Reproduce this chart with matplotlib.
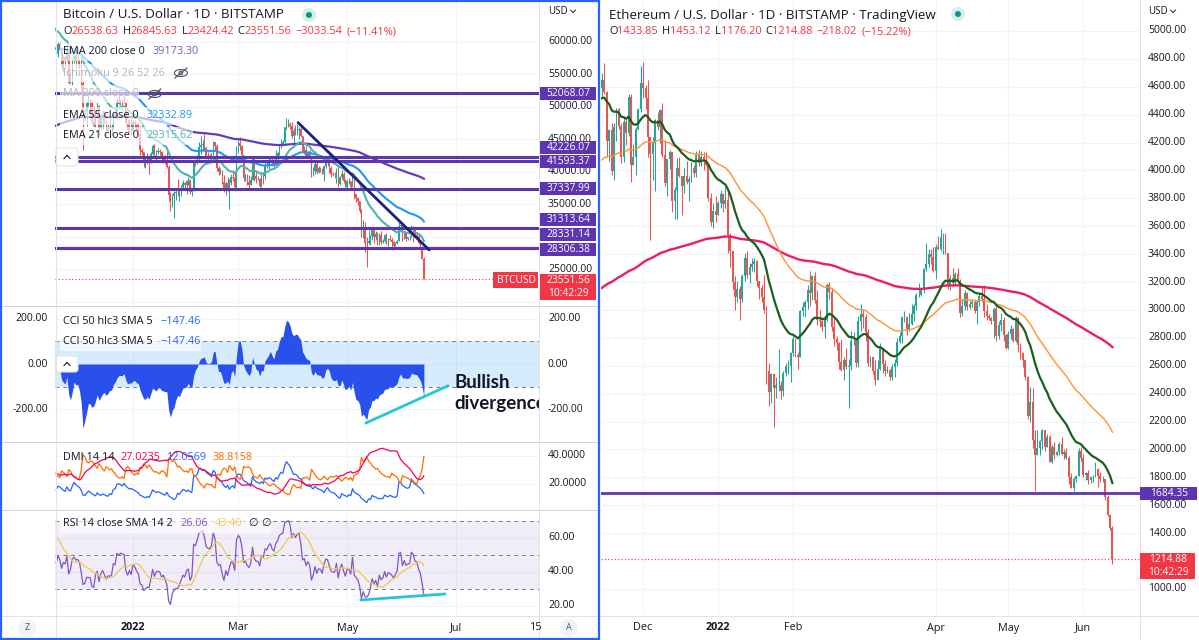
#!/usr/bin/env python3
"""
BTC and ETH daily charts (TradingView look), snapshot of 13 June 2022.
Left: BTCUSD with EMAs, levels, CCI, DMI, RSI.  Right: ETHUSD with EMAs.
"""

import numpy as np
import pandas as pd
import matplotlib
matplotlib.use('Agg')
import matplotlib.pyplot as plt
from matplotlib.transforms import IdentityTransform
from matplotlib.patches import Rectangle, Circle, Ellipse, FancyBboxPatch
from matplotlib.lines import Line2D

# ---------------------------------------------------------------- BTC data
# daily bars from 1 Oct 2021 to 13 Jun 2022, in thousands of USD
btc_first_open = 43.8
btc_close = [
    48.1, 47.7, 48.2, 49.2, 51.5, 55.3, 53.8, 53.9, 54.9, 54.7, 57.5, 56.0, 57.4, 57.3, 61.7, 60.9,
    61.5, 62.0, 64.3, 66.0, 62.2, 60.7, 61.3, 60.9, 63.1, 60.3, 58.5, 60.6, 62.3, 61.9, 61.3,
    61.0, 63.2, 62.9, 61.4, 61.0, 61.5, 63.3, 67.6, 66.9, 64.9, 64.9, 64.2, 64.4, 65.5, 63.6,
    60.1, 60.4, 56.9, 58.1, 59.7, 58.7, 56.3, 57.6, 57.2, 58.9, 53.7, 54.8, 57.3, 57.8, 57.0,
    57.2, 56.5, 53.6, 49.2, 49.4, 50.6, 50.6, 50.5, 47.6, 47.1, 49.3, 50.1, 46.7, 48.3, 48.9, 47.6,
    46.2, 46.8, 46.7, 46.9, 48.9, 48.6, 50.8, 50.4, 50.8, 50.7, 50.6, 47.5, 46.4, 47.1, 46.2,
    47.7, 47.3, 46.4, 45.8, 43.4, 43.1, 41.5, 41.7, 41.9, 41.8, 42.7, 43.9, 42.6, 43.1, 43.2, 43.1,
    42.2, 42.4, 41.7, 40.7, 36.4, 35.1, 36.3, 36.7, 36.9, 36.8, 37.2, 37.7, 38.2, 37.9, 38.5,
    38.7, 36.9, 37.3, 41.6, 41.4, 42.4, 43.8, 44.1, 44.3, 43.6, 42.4, 42.2, 42.1, 42.6, 44.6, 43.9,
    40.6, 40.0, 40.1, 38.4, 37.0, 38.3, 37.3, 38.3, 39.2, 39.1, 37.7, 43.2,
    44.4, 44.0, 42.5, 39.1, 39.4, 38.4, 37.9, 38.7, 41.9, 39.4, 38.8, 38.8, 37.8, 39.7, 39.3, 41.1,
    40.9, 41.8, 42.2, 41.3, 41.0, 42.4, 42.9, 44.0, 44.3, 44.5, 46.8, 47.1, 47.4, 47.0, 45.5,
    46.3, 45.8, 46.4, 46.6, 45.5, 43.2, 43.4, 42.3, 42.8, 42.2, 39.5, 40.1, 41.2, 39.9, 40.5,
    40.4, 39.7, 40.8, 41.5, 41.4, 40.5, 39.7, 39.5, 39.5, 40.4, 38.1, 39.2, 39.7, 38.6, 37.7,
    38.5, 38.5, 37.7, 39.7, 36.5, 36.0, 35.5, 34.0, 30.1, 31.0, 29.1, 29.0, 29.3, 30.1, 31.3, 29.9,
    30.4, 28.7, 30.3, 29.2, 29.4, 30.3, 29.1, 29.7, 29.5, 29.2, 28.6, 29.0, 29.4, 31.7, 31.8,
    29.8, 30.5, 29.7, 29.9, 29.9, 31.4, 31.1, 30.2, 30.1, 29.1, 28.4, 26.59, 23.55,
]
btc_high = [
    48.5, 48.4, 49.5, 49.5, 51.9, 55.8, 55.3, 56.1, 55.4, 56.5, 57.8, 57.7, 57.6, 58.5, 62.9, 62.3,
    61.7, 62.6, 64.4, 66.9, 66.6, 63.7, 61.4, 61.5, 63.7, 63.3, 61.4, 62.4, 62.9, 62.3, 62.4,
    62.4, 64.3, 63.5, 63.1, 62.6, 61.6, 63.3, 67.8, 68.5, 69.0, 65.6, 65.0, 65.0, 65.5, 66.3,
    63.6, 60.8, 60.9, 58.4, 59.9, 60.0, 59.2, 57.9, 57.8, 59.4, 59.2, 55.3, 57.4, 58.9, 59.2,
    59.0, 57.4, 57.6, 53.9, 49.7, 50.9, 51.9, 51.2, 50.8, 50.1, 49.5, 50.7, 50.2, 48.7, 49.5, 49.4,
    47.9, 47.3, 48.2, 47.5, 49.3, 49.6, 51.4, 51.8, 51.2, 51.2, 52.1, 50.7, 48.1, 47.9, 48.5,
    47.9, 47.9, 47.5, 47.5, 47.0, 43.7, 43.1, 42.3, 42.8, 42.2, 43.1, 44.3, 44.4, 43.4, 43.7, 43.5,
    43.2, 42.6, 42.6, 43.5, 41.1, 36.8, 36.5, 37.0, 37.5, 38.9, 37.2, 38.0, 38.7, 38.4, 38.7,
    39.2, 38.8, 37.4, 41.7, 41.9, 42.6, 44.5, 45.5, 44.8, 45.8, 43.9, 43.0, 42.7, 42.9, 44.7, 44.6,
    44.2, 40.9, 40.5, 40.2, 39.5, 38.4, 39.2, 38.9, 39.7, 40.2, 39.8, 44.0,
    44.9, 45.4, 44.1, 42.5, 39.6, 39.6, 39.5, 39.4, 42.4, 42.0, 40.1, 39.3, 39.0, 39.9, 39.9, 41.7,
    41.5, 42.3, 42.4, 42.3, 42.0, 43.3, 43.0, 44.2, 45.1, 44.8, 46.9, 48.2, 48.1, 47.7, 47.6,
    46.7, 47.2, 47.4, 46.9, 47.2, 45.5, 43.9, 43.9, 42.8, 43.4, 42.4, 40.7, 41.5, 41.5, 40.8,
    40.7, 40.6, 41.0, 41.7, 42.2, 42.9, 40.8, 39.9, 39.9, 40.6, 40.8, 39.4, 40.3, 39.9, 38.8,
    38.7, 39.1, 38.6, 40.0, 39.8, 36.6, 36.1, 35.5, 34.3, 32.6, 32.2, 30.0, 31.0, 30.3, 31.4, 31.3,
    30.8, 30.7, 30.5, 30.8, 29.6, 30.4, 30.6, 29.8, 30.2, 29.8, 29.4, 29.2, 29.5, 32.2, 32.4,
    31.9, 30.6, 30.6, 29.9, 30.2, 31.8, 31.6, 31.3, 30.6, 30.3, 29.4, 28.5, 26.85,
]
btc_low = [
    43.3, 47.1, 47.1, 46.9, 49.1, 50.4, 53.4, 53.6, 53.7, 54.1, 54.4, 53.9, 54.3, 56.8, 56.9, 60.2,
    58.9, 60.4, 61.5, 63.5, 62.0, 60.0, 60.0, 59.6, 60.7, 59.8, 58.1, 57.8, 60.2, 60.8, 59.6,
    59.5, 60.7, 61.0, 60.7, 60.8, 60.1, 61.4, 63.1, 66.3, 62.8, 64.1, 62.3, 63.4, 63.6, 63.4,
    58.6, 58.4, 56.5, 55.7, 57.6, 58.6, 55.7, 55.4, 55.9, 57.0, 53.5, 53.7, 53.3, 56.7, 55.9,
    56.5, 55.9, 52.0, 43.3, 47.8, 47.1, 50.1, 48.6, 47.3, 46.9, 46.9, 48.6, 45.7, 46.5, 46.6, 47.5,
    45.5, 45.9, 46.5, 45.6, 46.6, 48.4, 48.1, 50.4, 50.2, 49.5, 50.5, 47.3, 46.1, 45.9, 45.7,
    46.2, 46.7, 45.7, 45.5, 42.6, 42.5, 40.7, 40.5, 41.2, 39.7, 41.3, 42.5, 42.3, 41.7, 42.7, 42.6,
    41.6, 41.3, 41.2, 40.6, 35.5, 34.0, 34.6, 32.9, 35.7, 36.3, 35.5, 36.2, 37.4, 37.4, 36.6,
    38.0, 36.6, 36.3, 37.0, 40.9, 41.2, 41.7, 42.7, 43.2, 43.2, 42.0, 41.8, 41.9, 41.6, 42.5, 43.4,
    40.1, 39.5, 39.6, 38.1, 36.8, 36.4, 37.1, 34.3, 38.0, 38.6, 37.0, 37.5,
    42.8, 43.4, 41.9, 38.6, 38.6, 38.0, 37.2, 37.9, 38.7, 38.5, 38.2, 38.7, 37.6, 37.6, 38.1, 38.9,
    40.5, 40.2, 41.5, 40.9, 40.5, 41.0, 41.7, 42.6, 43.6, 44.1, 44.4, 46.6, 46.9, 46.6, 45.2,
    44.2, 45.6, 45.6, 45.1, 45.4, 43.0, 42.7, 42.1, 42.1, 41.9, 39.2, 39.3, 39.6, 39.6, 39.8,
    40.0, 39.6, 38.6, 40.6, 40.9, 39.8, 39.2, 39.3, 39.0, 38.2, 37.7, 37.9, 38.9, 38.2, 37.6,
    37.4, 38.1, 37.5, 37.7, 35.8, 35.3, 34.8, 33.7, 30.0, 29.8, 27.7, 25.4, 28.8, 28.7, 29.5, 29.1,
    29.5, 28.7, 28.7, 28.8, 29.0, 29.2, 28.9, 28.6, 29.3, 28.0, 28.3, 28.5, 28.8, 29.3, 31.2,
    29.4, 29.6, 29.4, 29.5, 29.5, 29.9, 29.2, 29.9, 29.9, 28.9, 28.1, 26.6, 23.42,
]
btc_ema_lengths = [200, 55, 21]
btc_ema_seeds = [38600, 47500, 47000]      # EMA values on 30 Sep 2021
btc_levels = [52068.07, 42226.07, 41593.37, 37337.99, 31313.64, 28331.14, 28306.38]
btc_last = 23551.56
btc_trend_x = [184.5, 258.0]               # bar index (0 = 1 Oct 2021)
btc_trend_y = [47550, 27950]
cci_div_x = [222.6, 268.4]
cci_div_y = [-261, -97]
rsi_div_x = [219.8, 266.7]
rsi_div_y = [23.5, 27.0]
btc_ticks = [92, 151, 212, 273, 318]
btc_tick_labels = ['2022', 'Mar', 'May', 'Jul', '15']

# ---------------------------------------------------------------- ETH data
# daily bars from 14 Nov 2021 to 13 Jun 2022, USD
eth_first_open = 4590
eth_close = [
    4645, 4565, 4210, 4290, 3995, 4310, 4440, 4320, 4100, 4350, 4270, 4525, 4040, 4100, 4300, 4440, 4630,
    4590, 4520, 4240, 4120, 4200, 4360, 4310, 4430, 4110, 3910, 4080, 4130, 3780, 3860, 4020, 3960,
    3890, 3960, 3920, 3940, 4020, 3980, 4110, 4050, 4100, 4070, 4040, 3800, 3630, 3710, 3680,
    3770, 3830, 3760, 3790, 3540, 3420, 3200, 3090, 3150, 3080, 3240, 3370, 3250, 3310, 3330, 3350,
    3210, 3160, 3090, 3000, 2560, 2410, 2540, 2440, 2460, 2460, 2420, 2550, 2600, 2600, 2690,
    2790, 2680, 2660, 2990, 3020, 3060, 3140, 3120, 3240, 3070, 2930, 2920, 2880, 2930, 3180, 3130,
    2880, 2790, 2760, 2630, 2570, 2640, 2590, 2600, 2780, 2780, 2620, 2920,
    2970, 2950, 2840, 2620, 2660, 2560, 2500, 2580, 2730, 2610, 2560, 2570, 2520, 2590, 2620, 2770,
    2810, 2950, 2950, 2860, 2900, 2970, 3030, 3110, 3110, 3140, 3290, 3330, 3400, 3380, 3280,
    3450, 3440, 3520, 3520, 3410, 3170, 3230, 3190, 3260, 3210, 2980, 3030, 3120, 3020, 3040,
    3060, 2990, 3060, 3100, 3080, 2990, 2960, 2940, 2920, 3010, 2810, 2890, 2930, 2820, 2730,
    2830, 2860, 2780, 2940, 2750, 2690, 2640, 2520, 2240, 2340, 2070, 1960, 2010, 2060, 2140, 2020,
    2090, 1910, 2020, 1960, 1980, 2040, 1970, 1980, 1940, 1800, 1720, 1790, 1810, 1990, 1940,
    1820, 1830, 1780, 1800, 1800, 1860, 1810, 1790, 1790, 1660, 1530, 1434, 1215,
]
eth_high = [
    4700, 4770, 4570, 4300, 4340, 4340, 4450, 4450, 4340, 4380, 4370, 4550, 4550, 4190, 4310, 4450, 4750,
    4780, 4610, 4650, 4240, 4240, 4370, 4420, 4440, 4480, 4220, 4080, 4150, 4120, 3880, 4090, 4100,
    3960, 4020, 4070, 3960, 4060, 4040, 4140, 4150, 4140, 4130, 4130, 4050, 3840, 3770, 3820,
    3780, 3860, 3840, 3880, 3850, 3550, 3420, 3240, 3210, 3170, 3260, 3410, 3420, 3340, 3370, 3370,
    3360, 3210, 3180, 3250, 3030, 2620, 2550, 2460, 2520, 2720, 2490, 2560, 2620, 2640, 2700,
    2810, 2790, 2700, 3000, 3060, 3070, 3180, 3280, 3250, 3270, 3140, 3000, 2950, 2950, 3190, 3200,
    3160, 2940, 2810, 2770, 2790, 2660, 2730, 2650, 2850, 2840, 2800, 2960,
    3040, 3000, 2970, 2860, 2670, 2660, 2640, 2640, 2760, 2720, 2640, 2600, 2580, 2610, 2650, 2800,
    2840, 2960, 2990, 2960, 2980, 3040, 3040, 3120, 3190, 3150, 3300, 3480, 3440, 3440, 3450,
    3470, 3530, 3580, 3550, 3550, 3410, 3250, 3300, 3270, 3300, 3220, 3080, 3140, 3130, 3070,
    3080, 3070, 3070, 3120, 3170, 3180, 3040, 2970, 2950, 3020, 3030, 2920, 2980, 2950, 2830,
    2850, 2890, 2870, 2960, 2950, 2760, 2700, 2640, 2530, 2450, 2440, 2140, 2140, 2070, 2150, 2140,
    2110, 2100, 2030, 2050, 1990, 2050, 2090, 2000, 2010, 1950, 1830, 1800, 1820, 2010, 2020,
    1970, 1840, 1850, 1810, 1820, 1910, 1870, 1840, 1810, 1790, 1670, 1540, 1453,
]
eth_low = [
    4520, 4550, 4100, 4070, 3970, 3930, 4210, 4300, 4050, 4060, 4180, 4250, 3920, 4050, 3970, 4290, 4420,
    4520, 4440, 4100, 3500, 3930, 3850, 4290, 4200, 4100, 3890, 3820, 4010, 3700, 3650, 3650, 3950,
    3680, 3840, 3900, 3780, 3920, 3950, 3950, 4030, 4030, 4000, 4030, 3780, 3600, 3590, 3630,
    3680, 3730, 3700, 3730, 3410, 3310, 3150, 3000, 3060, 2930, 3060, 3210, 3230, 3190, 3280, 3270,
    3170, 3080, 3060, 2980, 2470, 2310, 2330, 2160, 2370, 2420, 2360, 2380, 2530, 2540, 2480,
    2670, 2660, 2580, 2660, 2960, 2950, 3010, 3030, 3070, 3050, 2890, 2880, 2850, 2800, 2920, 3080,
    2850, 2740, 2710, 2580, 2560, 2500, 2580, 2300, 2570, 2750, 2590, 2590,
    2850, 2870, 2780, 2600, 2590, 2540, 2460, 2500, 2570, 2550, 2530, 2550, 2500, 2500, 2520, 2600,
    2760, 2760, 2910, 2820, 2850, 2890, 2920, 3000, 3090, 3100, 3120, 3280, 3310, 3330, 3270,
    3220, 3430, 3420, 3400, 3400, 3150, 3140, 3170, 3180, 3190, 2950, 2960, 3000, 3000, 3010,
    3020, 2980, 2900, 3030, 3060, 2950, 2930, 2930, 2900, 2800, 2780, 2790, 2850, 2780, 2720,
    2720, 2790, 2770, 2770, 2700, 2650, 2590, 2500, 2220, 2200, 2010, 1700, 1960, 1960, 2000, 1990,
    2020, 1910, 1900, 1930, 1950, 1960, 1960, 1930, 1930, 1750, 1720, 1700, 1770, 1810, 1920,
    1800, 1780, 1750, 1760, 1770, 1800, 1730, 1770, 1770, 1640, 1520, 1420, 1176,
]
eth_ema_lengths = [200, 55, 21]
eth_ema_seeds = [3143, 4054, 4505]          # EMA values on 13 Nov 2021
eth_level = 1684.35
eth_last = 1214.88
eth_ticks = [17, 48, 79, 138, 168, 199]
eth_tick_labels = ['Dec', '2022', 'Feb', 'Apr', 'May', 'Jun']

# ---------------------------------------------------------------- style
W, H = 1199, 640
UP, DOWN = '#26A69A', '#EF5350'
TXT, FADE = '#131722', '#B2B5BE'
GRID, SEP = '#F0F3FA', '#E0E3EB'
PURPLE = '#673AB7'
RED_TAG = '#F23645'
ID = IdentityTransform()

plt.rcParams['font.family'] = ['Open Sans', 'DejaVu Sans']


def make_bars(close, high, low, first_open, scale=1.0):
    c = np.array(close, float) * scale
    o = np.concatenate([[first_open * scale], c[:-1]])
    h = np.maximum.reduce([np.array(high, float) * scale, o, c])
    l = np.minimum.reduce([np.array(low, float) * scale, o, c])
    return o, h, l, c


def ema(values, n, seed):
    a = 2.0 / (n + 1)
    out, e = [], seed
    for v in values:
        e = e + a * (v - e)
        out.append(e)
    return np.array(out)


def rma(x, n):
    return pd.Series(x).ewm(alpha=1.0 / n, adjust=False).mean().values


def add_ax(x0, y0, x1, y1):
    ax = fig.add_axes([x0 / W, 1 - y1 / H, (x1 - x0) / W, (y1 - y0) / H])
    for s in ax.spines.values():
        s.set_visible(False)
    ax.tick_params(length=0, labelbottom=False, labelleft=False)
    ax.grid(True, color=GRID, lw=0.8)
    ax.set_axisbelow(True)
    return ax


def candles(ax, o, h, l, c, width):
    x = np.arange(len(c))
    cols = np.where(c >= o, UP, DOWN)
    ax.vlines(x, l, h, colors=cols, lw=0.75, zorder=3)
    ax.bar(x, np.maximum(np.abs(c - o), 1e-9), width, bottom=np.minimum(o, c),
           color=cols, lw=0, zorder=3)


def to_px(ax, x, y):
    X, Y = ax.transData.transform((x, y))
    return X, H - Y


def ftext(x, y, s, **kw):
    kw.setdefault('fontsize', 7.5)
    kw.setdefault('color', TXT)
    kw.setdefault('va', 'center')
    return fig.text(x, H - y, s, transform=ID, **kw)


def text_parts(x, y, parts, size=7.8, bg=False):
    x0 = x
    for s, col, gap in parts:
        t = ftext(x, y, s, fontsize=size, color=col)
        x += t.get_window_extent(renderer).width + gap
    if bg:
        fig.add_artist(Rectangle((x0 - 3, H - y - 9), x - x0 + 3, 18, transform=ID,
                                 facecolor='white', alpha=0.65, lw=0, zorder=2))
    return x


def px_line(x0, y0, x1, y1, color=SEP, lw=1.0, **kw):
    fig.add_artist(Line2D([x0, x1], [H - y0, H - y1], transform=ID, color=color,
                          lw=lw * 0.72, **kw))


def tag(x0, x1, yc, lines, color, h=13):
    top = yc - h / 2
    fig.add_artist(Rectangle((x0, H - top - h * len(lines)), x1 - x0, h * len(lines),
                             transform=ID, facecolor=color, lw=0, zorder=4))
    for i, s in enumerate(lines):
        t = ftext((x0 + x1) / 2 + 1, top + h * i + h / 2, s, ha='center', color='white',
                  fontsize=7.4)
        t.set_zorder(5)


def live_dot(x, y):
    fig.add_artist(Circle((x, H - y), 7, transform=ID, facecolor='#D4EFEA', lw=0))
    fig.add_artist(Circle((x, H - y), 3, transform=ID, facecolor='#089981', lw=0))


def eye_off(x, y):
    c = '#50535E'
    fig.add_artist(Ellipse((x, H - y), 13, 7, transform=ID, facecolor='none', edgecolor=c, lw=0.8))
    fig.add_artist(Circle((x, H - y), 1.8, transform=ID, facecolor='none', edgecolor=c, lw=0.8))
    px_line(x - 6, y + 5, x + 6, y - 5, color=c, lw=1.2)


def collapse_btn(x0, y0, x1, y1):
    fig.add_artist(FancyBboxPatch((x0, H - y1), x1 - x0, y1 - y0,
                                  boxstyle='round,pad=0,rounding_size=3', transform=ID,
                                  facecolor='white', edgecolor=SEP, lw=0.8, zorder=2))
    xm, ym = (x0 + x1) / 2, (y0 + y1) / 2
    px_line(xm - 3, ym + 1.5, xm, ym - 1.5, color=TXT, lw=1.1)
    px_line(xm, ym - 1.5, xm + 3, ym + 1.5, color=TXT, lw=1.1)


def round_btn(x, y, s):
    fig.add_artist(Circle((x, H - y), 9, transform=ID, facecolor='#F0F3FA', lw=0))
    ftext(x, y, s, ha='center', fontsize=6.5, color='#50535E')


def usd_label(x, y):
    t = ftext(x, y, 'USD', fontsize=7)
    xe = x + t.get_window_extent(renderer).width + 3
    px_line(xe, y - 1, xe + 2.5, y + 1.5, color=TXT, lw=0.9)
    px_line(xe + 2.5, y + 1.5, xe + 5, y - 1, color=TXT, lw=0.9)


# ---------------------------------------------------------------- indicators
bo, bh, bl, bc = make_bars(btc_close, btc_high, btc_low, btc_first_open, 1000.0)
bx = np.arange(len(bc))
btc_emas = [ema(bc, n, s) for n, s in zip(btc_ema_lengths, btc_ema_seeds)]

tp = pd.Series((bh + bl + bc) / 3.0)
tp_ma = tp.rolling(50).mean()
tp_md = tp.rolling(50).apply(lambda v: np.mean(np.abs(v - v.mean())), raw=True)
cci = ((tp - tp_ma) / (0.015 * tp_md)).values

delta = np.diff(bc, prepend=bo[0])
rs = rma(np.clip(delta, 0, None), 14) / rma(np.clip(-delta, 0, None), 14)
rsi = 100 - 100 / (1 + rs)
rsi_ma = pd.Series(rsi).rolling(14).mean().values

up_move = np.diff(bh, prepend=bh[0])
dn_move = -np.diff(bl, prepend=bl[0])
plus_dm = np.where((up_move > dn_move) & (up_move > 0), up_move, 0.0)
minus_dm = np.where((dn_move > up_move) & (dn_move > 0), dn_move, 0.0)
prev_c = np.concatenate([[bo[0]], bc[:-1]])
tr = np.maximum.reduce([bh - bl, np.abs(bh - prev_c), np.abs(bl - prev_c)])
atr = rma(tr, 14)
plus_di = 100 * rma(plus_dm, 14) / atr
minus_di = 100 * rma(minus_dm, 14) / atr
adx = rma(100 * np.abs(plus_di - minus_di) / (plus_di + minus_di + 1e-9), 14)

eo, eh, el, ec = make_bars(eth_close, eth_high, eth_low, eth_first_open)
ex = np.arange(len(ec))
eth_emas = [ema(ec, n, s) for n, s in zip(eth_ema_lengths, eth_ema_seeds)]

# ---------------------------------------------------------------- figure
fig = plt.figure(figsize=(W / 100, H / 100), dpi=100)
fig.patch.set_facecolor('white')
renderer = fig.canvas.get_renderer()

BX0, BX1 = 55.5, 539
ax_p = add_ax(BX0, 2, BX1, 305)
ax_c = add_ax(BX0, 306, BX1, 441)
ax_d = add_ax(BX0, 442, BX1, 509)
ax_r = add_ax(BX0, 510, BX1, 615)
ax_e = add_ax(601, 0, 1139.5, 615)

btc_xlim = (48.6, 319.5)
for ax in (ax_p, ax_c, ax_d, ax_r):
    ax.set_xlim(*btc_xlim)
    ax.set_xticks(btc_ticks[:4])

# --- BTC price pane
ax_p.set_ylim(19490, 66100)
price_ticks = np.arange(20000, 60001, 5000)
ax_p.set_yticks(price_ticks)
candles(ax_p, bo, bh, bl, bc, 0.72)
for line, col, lw in zip(btc_emas, [PURPLE, '#2196F3', '#4DB6AC'], [1.6, 1.5, 1.5]):
    ax_p.plot(bx, line, color=col, lw=lw, zorder=4)
for lv in btc_levels:
    ax_p.axhline(lv, color='#5E35B1', lw=2.2, zorder=5)
ax_p.plot(btc_trend_x, btc_trend_y, color='#1A237E', lw=2.0, zorder=6,
          solid_capstyle='round')
ax_p.axhline(btc_last, color=RED_TAG, lw=0.8, ls=(0, (1, 2)), zorder=5)

# --- CCI pane
ax_c.set_ylim(-341, 257)
ax_c.set_yticks([-200, 0, 200])
ax_c.axhspan(-100, 100, color='#2196F3', alpha=0.18, lw=0, zorder=1)
for lv in (-100, 100):
    ax_c.axhline(lv, color='#787B86', lw=0.7, ls=(0, (4, 4)), zorder=2)
vis = bx >= 49
ax_c.fill_between(bx[vis], 0, cci[vis], color='#2A50EC', lw=0, zorder=3)
ax_c.plot(cci_div_x, cci_div_y, color='#26C6DA', lw=2.0, zorder=5)
ax_c.text(271.9, -84, 'Bullish', fontsize=13.5, fontweight='bold',
          family=['Lato', 'DejaVu Sans'], color=TXT, va='center', clip_on=True)
ax_c.text(271.9, -173, 'divergence', fontsize=13.5, fontweight='bold',
          family=['Lato', 'DejaVu Sans'], color=TXT, va='center', clip_on=True)

# --- DMI pane
ax_d.set_ylim(1.7, 50)
ax_d.set_yticks([20, 40])
ax_d.plot(bx[vis], plus_di[vis], color='#2962FF', lw=0.9, zorder=3)
ax_d.plot(bx[vis], minus_di[vis], color='#FF6D00', lw=0.9, zorder=3)
ax_d.plot(bx[vis], adx[vis], color='#F50057', lw=0.9, zorder=4)

# --- RSI pane
ax_r.set_ylim(14.7, 76.2)
ax_r.set_yticks([20, 40, 60])
ax_r.axhspan(30, 70, color='#7E57C2', alpha=0.1, lw=0, zorder=1)
for lv in (30, 50, 70):
    ax_r.axhline(lv, color='#787B86', lw=0.7, ls=(0, (4, 4)), zorder=2)
ax_r.plot(bx[vis], rsi[vis], color='#7E57C2', lw=0.9, zorder=3)
ax_r.plot(bx[vis], rsi_ma[vis], color='#F2C94C', lw=0.9, zorder=3)
ax_r.plot(rsi_div_x, rsi_div_y, color='#26C6DA', lw=2.0, zorder=5)

# --- ETH pane
ax_e.set_xlim(-0.4, 222.2)
ax_e.set_xticks(eth_ticks)
ax_e.set_ylim(813, 5222)
eth_price_ticks = np.arange(1000, 5001, 200)
ax_e.set_yticks(eth_price_ticks)
candles(ax_e, eo, eh, el, ec, 0.8)
for line, col, lw in zip(eth_emas, ['#E91E63', '#FF9233', '#1B5E20'], [1.7, 1.0, 1.6]):
    ax_e.plot(ex, line, color=col, lw=lw, zorder=4)
ax_e.axhline(eth_level, color='#5E35B1', lw=2.0, zorder=5)
ax_e.axhline(eth_last, color=RED_TAG, lw=0.8, ls=(0, (1, 2)), zorder=5)

# ---------------------------------------------------------------- axis texts
# 30000 sits fully under the level tags in the original, so it is not drawn
for v in price_ticks[1:]:
    if v == 30000:
        continue
    ftext(548, to_px(ax_p, 0, v)[1], f'{v:.2f}')
for v in [-200, 0, 200]:
    y = to_px(ax_c, 0, v)[1]
    ftext(548, y, f'{v:.2f}')
    ftext(48, y, f'{v:.2f}', ha='right')
for v in [20, 40]:
    ftext(548, to_px(ax_d, 0, v)[1], f'{v:.4f}')
for v in [20, 40, 60]:
    ftext(548, to_px(ax_r, 0, v)[1], f'{v:.2f}')
for v in eth_price_ticks:
    ftext(1148, to_px(ax_e, 0, v)[1], f'{v:.2f}')

for t, s in zip(btc_ticks, btc_tick_labels):
    ftext(to_px(ax_r, t, 0)[0], 628, s, ha='center', fontsize=7.8,
          fontweight='bold' if s == '2022' else 'normal')
for t, s in zip(eth_ticks, eth_tick_labels):
    ftext(to_px(ax_e, t, 0)[0], 628, s, ha='center', fontsize=7.8,
          fontweight='bold' if s == '2022' else 'normal')

# price tags on the scales
level_shift = [0, -10, 0.5, 0, -9, -13.5, 1.5]
for lv, dy in zip(btc_levels, level_shift):
    tag(539.5, 596, to_px(ax_p, 0, lv)[1] + dy, [f'{lv:.2f}'], '#5E35B1')
yb = to_px(ax_p, 0, btc_last)[1]
tag(539.5, 596, yb + 1.5, [f'{btc_last:.2f}', '10:42:29'], RED_TAG)
tag(493, 538, yb + 1.5, ['BTCUSD'], RED_TAG, h=16)
tag(1140, 1197, to_px(ax_e, 0, eth_level)[1], [f'{eth_level:.2f}'], '#5E35B1')
ye = to_px(ax_e, 0, eth_last)[1]
tag(1140, 1195, ye + 1, [f'{eth_last:.2f}', '10:42:29'], RED_TAG)

# ---------------------------------------------------------------- legends
ftext(63, 15, 'Bitcoin / U.S. Dollar · 1D · BITSTAMP', fontsize=9.6)
live_dot(309, 15)
R = '#F23645'
text_parts(63, 32, [('O', TXT, 0), ('26538.63', R, 4), ('H', TXT, 0), ('26845.63', R, 4),
                    ('L', TXT, 0), ('23424.42', R, 4), ('C', TXT, 0), ('23551.56', R, 4),
                    ('−3033.54', R, 4), ('(−11.41%)', R, 0)], size=7.9)
text_parts(63, 52, [('EMA 200 close 0', TXT, 8), ('39173.30', '#7E57C2', 0)], bg=True)
xe = text_parts(63, 73, [('Ichimoku 9 26 52 26', FADE, 0)], bg=True)
eye_off(xe + 16, 73)
xe = text_parts(63, 94, [('MA 200 close 0', FADE, 0)], bg=True)
eye_off(xe + 16, 94)
text_parts(63, 116, [('EMA 55 close 0', TXT, 8), ('32332.89', '#2196F3', 0)], bg=True)
text_parts(63, 136, [('EMA 21 close 0', TXT, 8), ('29315.62', '#4DB6AC', 0)], bg=True)
collapse_btn(56, 148, 78, 166)

for y in (321, 342):
    text_parts(63, y, [('CCI 50 hlc3 SMA 5', TXT, 8), ('−147.46', '#2962FF', 0)], bg=True)
collapse_btn(56, 356, 78, 372)
text_parts(63, 458, [('DMI 14 14', TXT, 6), ('27.0235', '#F50057', 6),
                     ('12.0569', '#2962FF', 6), ('38.8158', '#FF6D00', 0)])
text_parts(63, 524, [('RSI 14 close SMA 14 2', TXT, 8), ('26.06', '#7E57C2', 6),
                     ('43.40', '#F2C94C', 6), ('∅', TXT, 4), ('∅', TXT, 0)], bg=True)

ftext(609, 15, 'Ethereum / U.S. Dollar · 1D · BITSTAMP · TradingView', fontsize=9.6)
live_dot(958, 14)
text_parts(609, 32, [('O', TXT, 0), ('1433.85', R, 4), ('H', TXT, 0), ('1453.12', R, 4),
                     ('L', TXT, 0), ('1176.20', R, 4), ('C', TXT, 0), ('1214.88', R, 4),
                     ('−218.02', R, 4), ('(−15.22%)', R, 0)], size=7.9)

usd_label(548, 11)
usd_label(1148, 11)
round_btn(27, 628, 'Z')
round_btn(569, 628, 'A')

# ---------------------------------------------------------------- frame lines
px_line(0, 615.5, 600, 615.5)
px_line(601, 615.5, 1199, 615.5)
for y in (305.5, 441.5, 509.5):
    px_line(0, y, 600, y, color='#D1D4DC')
px_line(BX0, 0, BX0, 640)
px_line(BX1, 0, BX1, 640)
px_line(1139.5, 0, 1139.5, 640)
fig.add_artist(Rectangle((1, 1), 598, 638, transform=ID, facecolor='none',
                         edgecolor='#2962FF', lw=1.6, zorder=10))

fig.savefig('out.png', dpi=100, facecolor='white')
